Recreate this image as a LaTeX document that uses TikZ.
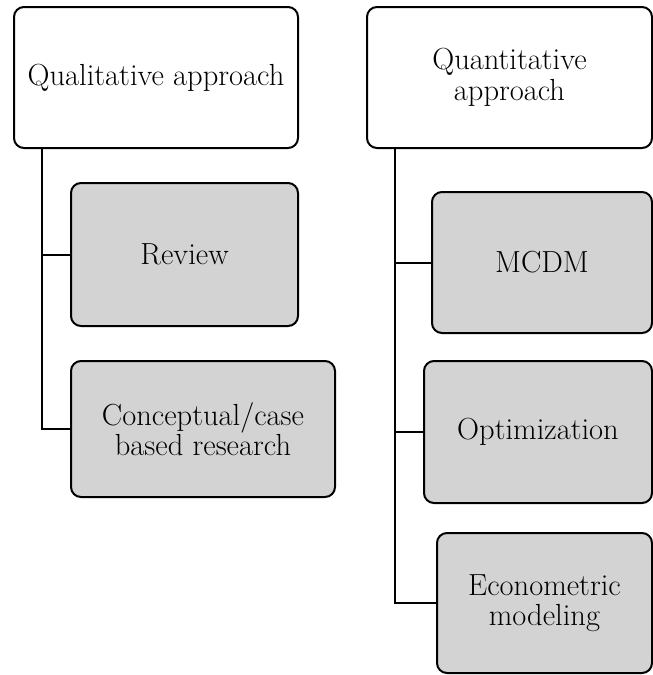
\documentclass[tikz,border=0pt]{standalone}
\usepackage{fontspec}
\usepackage{tikz}
\usetikzlibrary{positioning}
\definecolor{boxgray}{RGB}{211,211,211}

\begin{document}
\begin{tikzpicture}[x=1pt,y=-1pt,
	approach/.style={draw,rounded corners=10pt,line width=2pt,align=center,
		inner sep=0pt,font=\fontsize{30.5}{30.5}\selectfont},
	method/.style={approach,fill=boxgray},
	link/.style={line width=2pt}]
	\useasboundingbox (0,0) rectangle (653,675);
	\draw
		node [approach,minimum width=284pt,minimum height=141pt] at (156,77.5)   (qual)    {Qualitative approach}
		node [method,minimum width=227pt,minimum height=143pt]   at (184.5,254.5) (review)  {Review}
		node [method,minimum width=264pt,minimum height=136pt]   at (203,429)     (concept) {Conceptual/case\\based research}
		node [approach,minimum width=285pt,minimum height=141pt] at (509.5,77.5) (quant)   {Quantitative\\approach}
		node [method,minimum width=220pt,minimum height=141pt]   at (542,262.5)   (mcdm)    {MCDM}
		node [method,minimum width=228pt,minimum height=142pt]   at (538,432)     (optim)   {Optimization}
		node [method,minimum width=215pt,minimum height=140pt]   at (544.5,603)   (econ)    {Econometric\\modeling}
	;
	\draw[link] ([xshift=29pt]qual.south west)  |- (review.west);
	\draw[link] ([xshift=29pt]qual.south west)  |- (concept.west);
	\draw[link] ([xshift=29pt]quant.south west) |- (mcdm.west);
	\draw[link] ([xshift=29pt]quant.south west) |- (optim.west);
	\draw[link] ([xshift=29pt]quant.south west) |- (econ.west);
\end{tikzpicture}
\end{document}
